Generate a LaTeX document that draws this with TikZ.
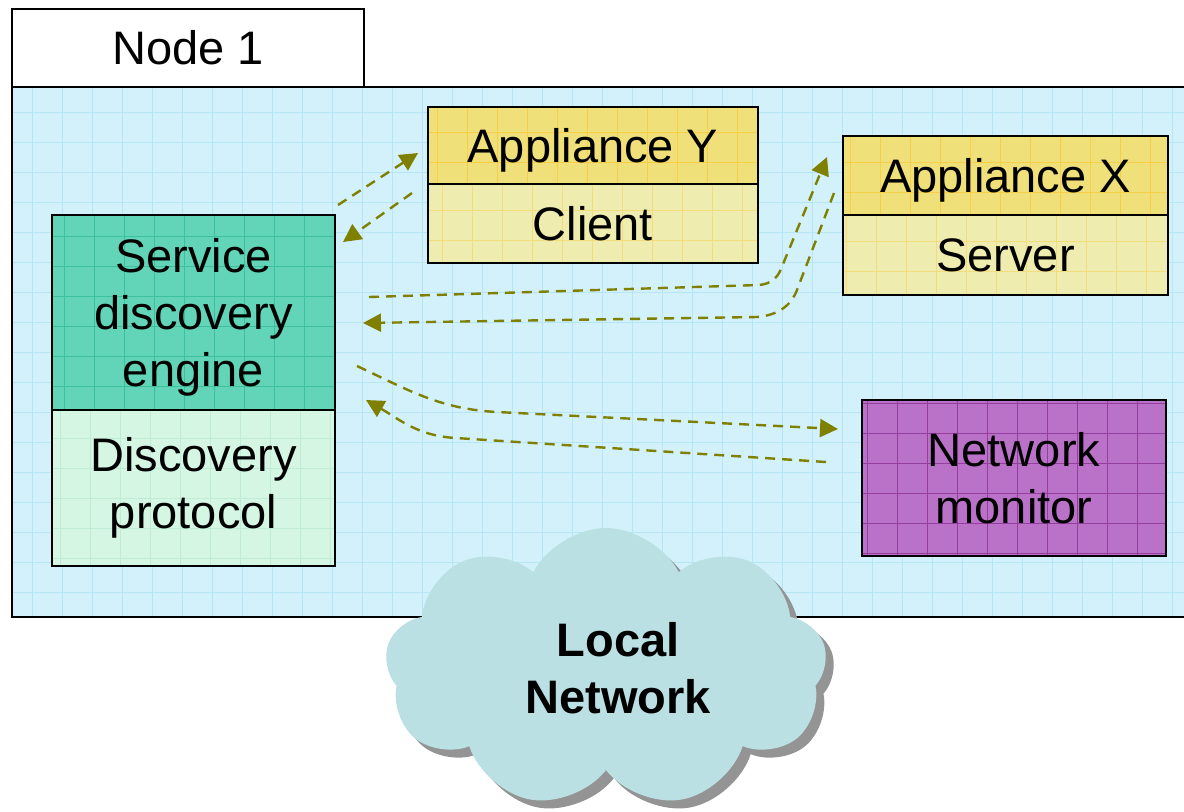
\documentclass[tikz,border=0pt]{standalone}
\usepackage{fontspec}
\setmainfont{Liberation Sans}
\usetikzlibrary{arrows.meta,positioning,shapes.symbols,shadows}
\definecolor{panefill}{RGB}{210,241,251}
\definecolor{panegrid}{RGB}{182,230,246}
\definecolor{enginefill}{RGB}{98,212,184}
\definecolor{enginegrid}{RGB}{60,192,158}
\definecolor{protofill}{RGB}{212,246,226}
\definecolor{protogrid}{RGB}{190,236,212}
\definecolor{headfill}{RGB}{240,224,122}
\definecolor{headgrid}{RGB}{246,206,72}
\definecolor{bodyfill}{RGB}{238,236,174}
\definecolor{bodygrid}{RGB}{242,220,124}
\definecolor{monfill}{RGB}{186,114,200}
\definecolor{mongrid}{RGB}{150,62,160}
\definecolor{cloudfill}{RGB}{186,224,228}
\definecolor{linkolive}{RGB}{128,128,0}
\newcommand{\diagfont}{\fontsize{23.5}{28.5}\selectfont}
\tikzset{
  box/.style={draw=black, line width=1.2pt, inner sep=0pt, outer sep=0pt, align=center, font=\diagfont},
  textured/.style 2 args={fill=#1, path picture={\draw[#2, line width=0.5pt, step=15pt] (path picture bounding box.south west) grid (path picture bounding box.north east);}},
  msgarrow/.style={->, linkolive, line width=1.2pt, dash pattern=on 5pt off 3.5pt},
}

\begin{document}
\begin{tikzpicture}[x=0.5pt,y=0.5pt,>={Triangle[length=9pt,width=9pt]}]
  \useasboundingbox (0,0) rectangle (1184,-811);
  \fill[white] (0,0) rectangle (1184,-811);
  \node[box, line width=1pt, textured={panefill}{panegrid}, minimum width=590pt, minimum height=265pt] (pane) at (602,-352) {};
  \node[box, line width=1pt, fill=white, minimum width=176pt, minimum height=39pt] (tab) at (188,-48) {Node 1};
  \node[box, textured={enginefill}{enginegrid}, minimum width=141.5pt, minimum height=97.5pt, text depth=0pt] (eng) at (193.5,-312.5) {Service\\discovery\\engine};
  \node[box, textured={protofill}{protogrid}, minimum width=141.5pt, minimum height=78pt, below=0pt of eng] (proto) {Discovery\\protocol};
  \node[box, textured={headfill}{headgrid}, minimum width=165pt, minimum height=38.5pt, text depth=0pt] (appY) at (593,-145.5) {Appliance Y};
  \node[box, textured={bodyfill}{bodygrid}, minimum width=165pt, minimum height=39.5pt, below=0pt of appY] (client) {Client};
  \node[box, textured={headfill}{headgrid}, minimum width=162.5pt, minimum height=39.5pt, text depth=0pt] (appX) at (1005.5,-175.5) {Appliance X};
  \node[box, textured={bodyfill}{bodygrid}, minimum width=162.5pt, minimum height=40pt, below=0pt of appX] (server) {Server};
  \node[box, textured={monfill}{mongrid}, minimum width=152pt, minimum height=78pt] (mon) at (1014,-478) {Network\\monitor};
  \node[cloud, cloud puffs=9, cloud puff arc=125, aspect=1.55, fill=cloudfill, inner sep=0pt,
        minimum width=221pt, minimum height=140pt, align=center, font=\diagfont\bfseries,
        drop shadow={shadow xshift=4pt, shadow yshift=-4pt, fill=black!42, opacity=1}] (lan) at (606,-668) {\hspace*{12pt}Local\\\hspace*{12pt}Network};
  \draw[msgarrow] ([shift={(3,10)}]eng.north east) -- ([shift={(-10,-7.5)}]appY.west);
  \draw[msgarrow] ([shift={(-16,30.5)}]client.west) -- ([shift={(8,-27)}]eng.north east);
  \draw[msgarrow] ([shift={(34,15.5)}]eng.east) -- ++(390,12) to[out=5,in=-112] ++(22,16) -- ([shift={(-16,18.5)}]appX.west);
  \draw[msgarrow] ([shift={(-9,-17.5)}]appX.west) -- ++(-37,-97) to[out=-111,in=5] ++(-40,-27) -- ([shift={(28,-10.5)}]eng.east);
  \draw[msgarrow] ([shift={(22,-53.5)}]eng.east) to[out=-25,in=177] ++(140,-46) -- ([shift={(-24,49)}]mon.west);
  \draw[msgarrow] ([shift={(-36,16)}]mon.west) -- ++(-370,24) to[out=177,in=-30] ([shift={(31,10)}]eng.south east);
\end{tikzpicture}
\end{document}
